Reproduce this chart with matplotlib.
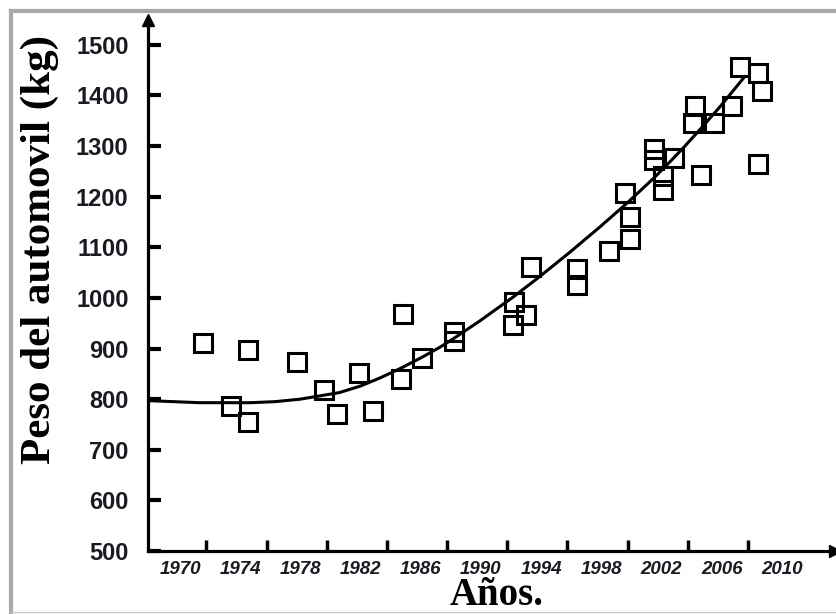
import matplotlib.pyplot as plt
from matplotlib.lines import Line2D

# measured car weights (year, kg)
anios = [1971.5, 1973.4, 1974.5, 1974.5, 1977.8, 1979.6, 1980.4, 1981.9, 1982.8,
         1984.8, 1984.7, 1986.1, 1988.2, 1988.2, 1992.1, 1992.2, 1993.0, 1993.3,
         1996.4, 1996.4, 1998.5, 1999.6, 1999.9, 1999.9, 2001.5, 2001.5, 2002.8,
         2002.1, 2002.1, 2004.6, 2004.2, 2004.1, 2005.5, 2006.7, 2007.2, 2008.4,
         2008.7, 2008.4]
pesos = [911, 787, 898, 755, 874, 819, 770, 851, 776,
         969, 839, 881, 915, 933, 947, 991, 966, 1062,
         1058, 1026, 1092, 1208, 1160, 1117, 1295, 1273, 1277,
         1241, 1213, 1243, 1380, 1346, 1346, 1380, 1457, 1444,
         1408, 1264]

# trend curve
curva_x = [1967.9, 1971.3, 1974.7, 1976.3, 1978.0, 1980.6, 1982.0, 1983.3,
           1984.6, 1986.1, 1987.3, 1988.3, 1989.9, 1992.2, 1993.9, 1995.9,
           1997.9, 1999.7, 2001.5, 2002.6, 2003.5, 2004.6, 2005.9, 2007.5]
curva_y = [797, 793, 793, 795, 800, 813, 826, 842,
           860, 883, 903, 922, 954, 1003, 1042, 1090,
           1140, 1187, 1237, 1270, 1298, 1334, 1378, 1436]

etiquetas_x = list(range(1970, 2011, 4))
marcas_x = [a + 1.75 for a in etiquetas_x[:-1]]
marcas_y = list(range(500, 1501, 100))

fig = plt.figure(figsize=(8.36, 6.14), dpi=100)
ax = fig.add_axes([148/836, 63/614, 688/836, 531/614])

ax.plot(curva_x, curva_y, color='black', lw=2.2, solid_capstyle='round',
        solid_joinstyle='round', zorder=2)
ax.plot(anios, pesos, ls='none', marker='s', ms=13, mew=2.2, mec='black',
        mfc='none', zorder=3)

ax.set_xlim(1967.87, 2013.6)
ax.set_ylim(500, 1549)

for s in ['top', 'right']:
    ax.spines[s].set_visible(False)
for s in ['left', 'bottom']:
    ax.spines[s].set_linewidth(2.3)

ax.plot(0.998, 0, '>', color='black', ms=9, transform=ax.transAxes, clip_on=False)
ax.plot(0, 1, '^', color='black', ms=9, transform=ax.transAxes, clip_on=False)

ax.set_yticks(marcas_y)
ax.set_yticklabels([str(v) for v in marcas_y], fontsize=17, fontweight='bold',
                   color='#1a1a22', family='Liberation Sans')
ax.tick_params(axis='y', direction='in', length=9, width=3, pad=14)

ax.set_xticks(etiquetas_x)
ax.set_xticklabels([str(v) for v in etiquetas_x], fontsize=13.5,
                   fontweight='bold', fontstyle='italic', color='#1a1a22',
                   family='Liberation Sans')
ax.tick_params(axis='x', which='major', length=0, pad=7)
ax.set_xticks(marcas_x, minor=True)
ax.tick_params(axis='x', which='minor', direction='in', length=8, width=2.5)

fig.text(40/836, 1 - 250/614, 'Peso del automovil (kg)', rotation=90,
         ha='center', va='center', fontsize=31, fontweight='bold',
         family='Liberation Serif')
fig.text(497/836, 9/614, 'Años.', ha='center', va='baseline', fontsize=28,
         fontweight='bold', family='Liberation Serif')

# outer frame
fig.add_artist(Line2D([11/836, 1], [1 - 11/614] * 2, color='#a8a8a8', lw=3,
                      transform=fig.transFigure))
fig.add_artist(Line2D([11/836] * 2, [2/614, 1 - 11/614], color='#a8a8a8', lw=3,
                      transform=fig.transFigure))
fig.add_artist(Line2D([11/836, 1], [2/614] * 2, color='#c8c8c8', lw=1,
                      transform=fig.transFigure))

fig.savefig('out.png', dpi=100)
